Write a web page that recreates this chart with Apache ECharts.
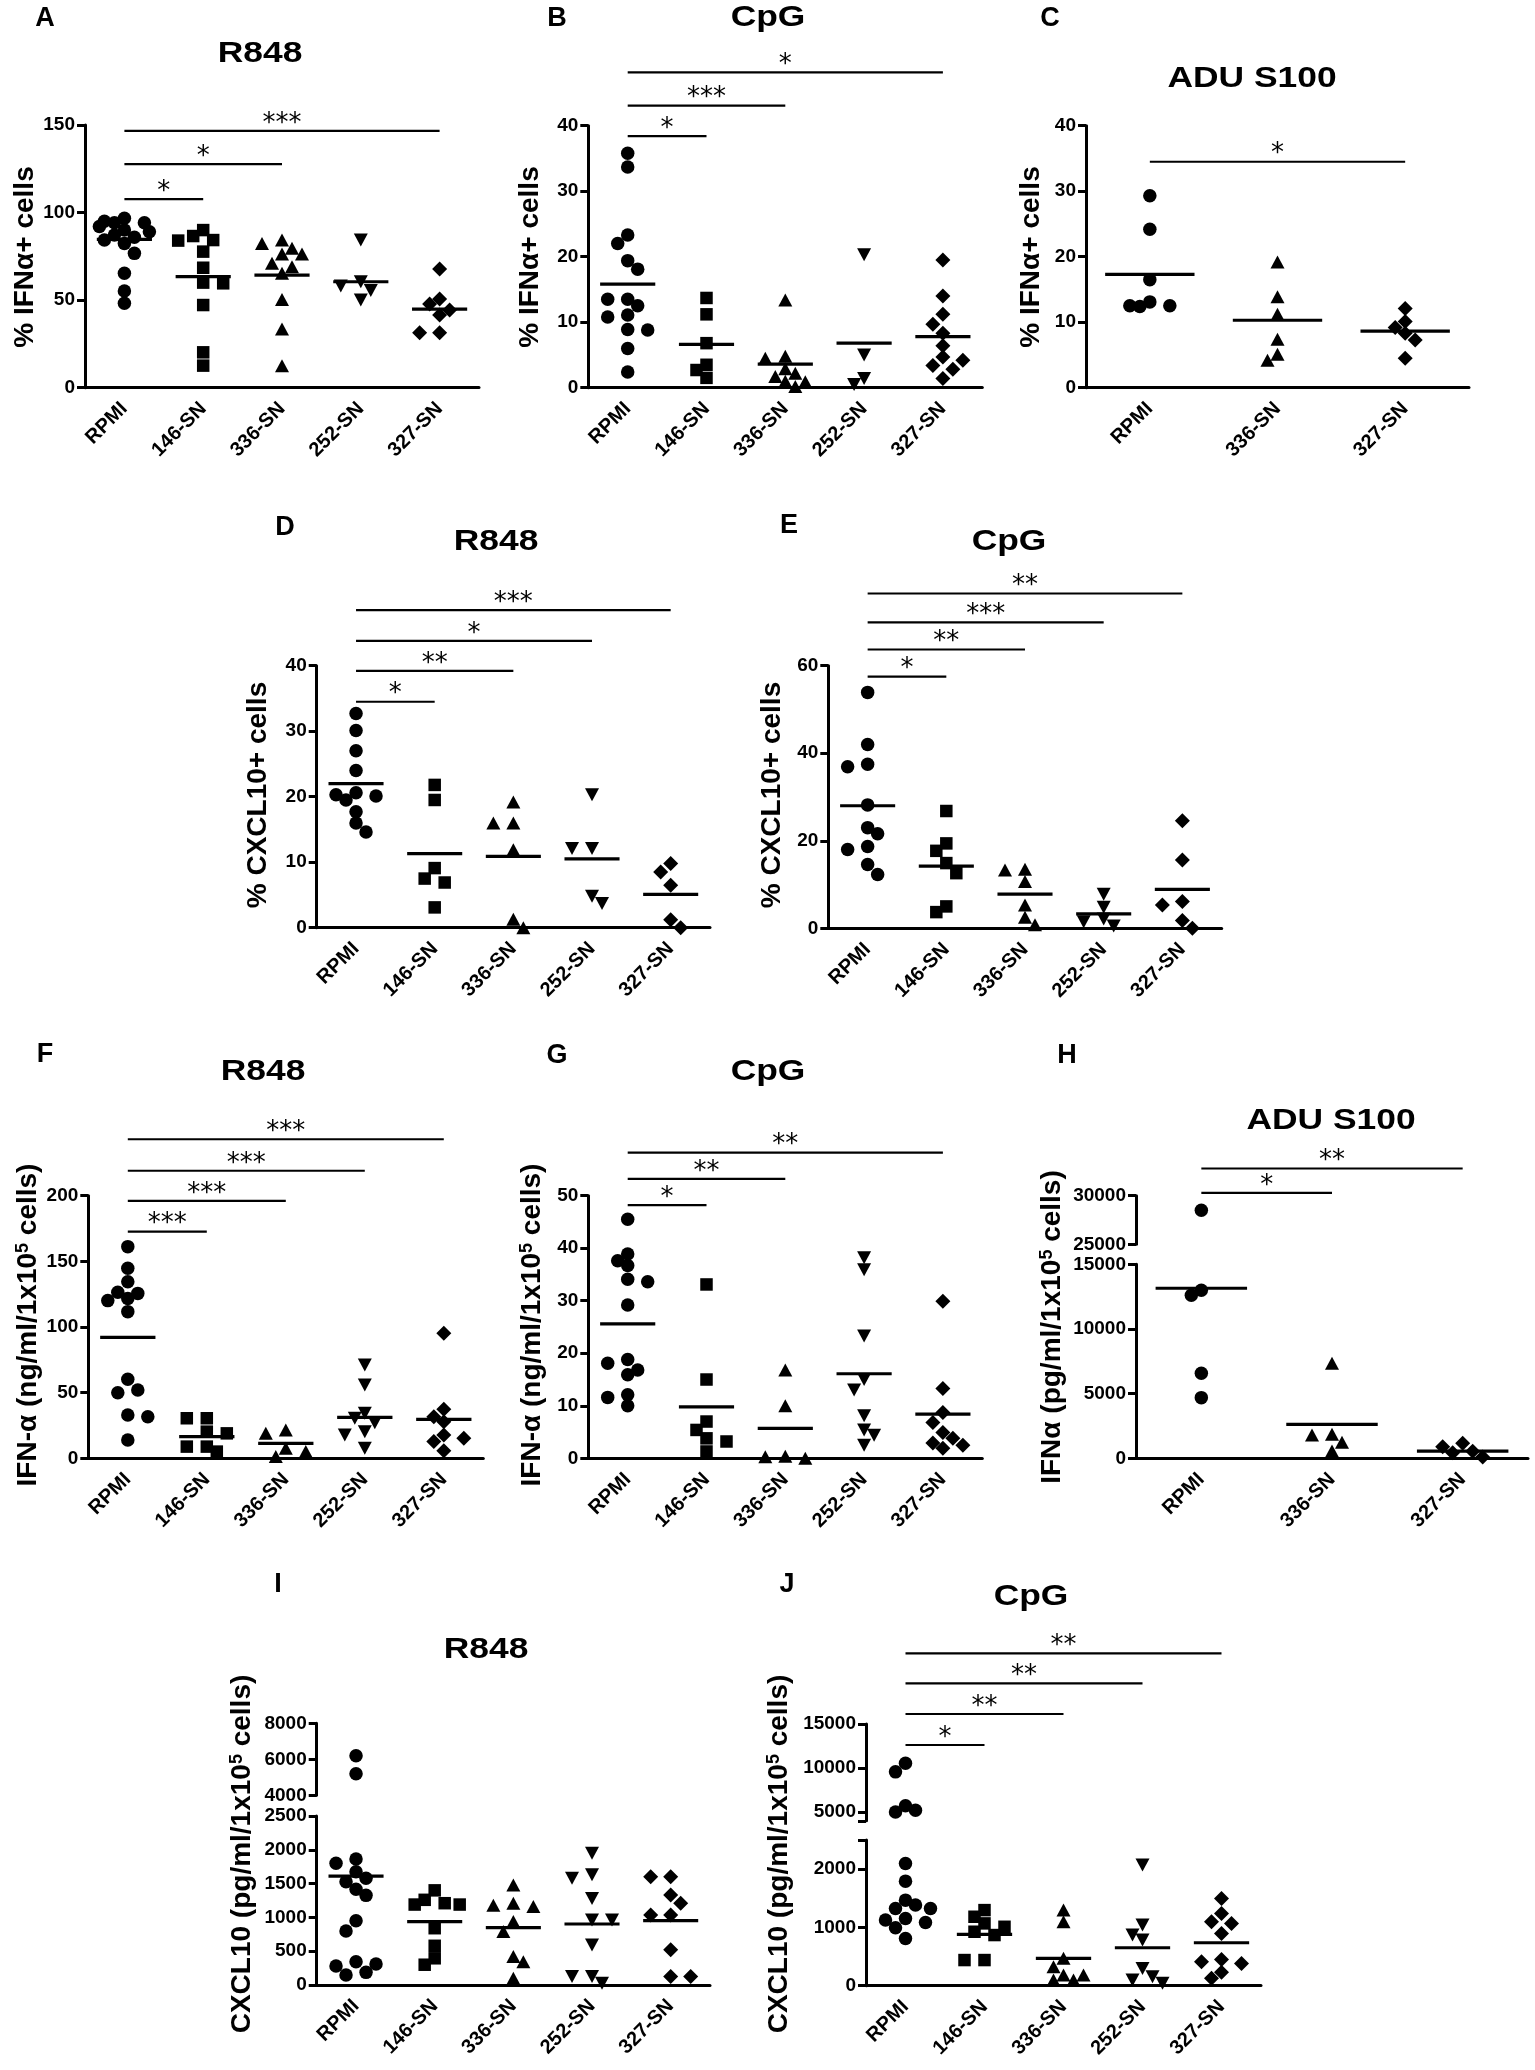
<!DOCTYPE html>
<html><head><meta charset="utf-8">
<script src="https://cdn.jsdelivr.net/npm/echarts@6/dist/echarts.min.js"></script>
<style>html,body{margin:0;padding:0;background:#fff}#c{width:1535px;height:2070px}</style>
</head><body><div id="c"></div>
<script>
const FONT = '"Liberation Sans", Arial, sans-serif';
const STAR_FONT = '"DejaVu Sans", sans-serif';

const categories5 = ['RPMI', '146-SN', '336-SN', '252-SN', '327-SN'];
const categories3 = ['RPMI', '336-SN', '327-SN'];

// ---- Panel A: % IFNa+ cells, R848
const A_RPMI = [96.7, 95, 94.2, 94.2, 92, 90, 89.1, 87.2, 85.9, 84.3, 82.4, 76.7, 65.3, 55.2, 48.2];
const A_146 = [90, 86.6, 84.3, 84, 77.7, 68.5, 60, 59.6, 47.2, 20.2, 12.6];
const A_336 = [84.3, 82.4, 79.6, 76.3, 76.3, 71, 69.1, 65.3, 50.4, 33.5, 12.6];
const A_252 = [84.3, 60.5, 58, 55.5, 50.1];
const A_327 = [67.8, 50.6, 47.8, 44.4, 41.5, 31.4, 31.4];
const A_means = [84.7, 63.4, 64.3, 60.5, 44.9];
const A_sig = [[0, 1, 107.7, '*'], [0, 2, 127.7, '*'], [0, 4, 146.6, '***']];

// ---- Panel B: % IFNa+ cells, CpG
const B_RPMI = [35.8, 33.7, 23.3, 22.0, 19.4, 18.1, 13.5, 13.5, 12.5, 11.1, 10.8, 8.9, 8.8, 6.0, 2.4];
const B_146 = [13.7, 11.2, 6.8, 3.5, 2.7, 1.5];
const B_336 = [13.4, 4.8, 4.5, 2.9, 2.2, 1.7, 1.0, 0.9, 0.2];
const B_252 = [20.3, 5.0, 1.4, 0.5];
const B_327 = [19.5, 14.0, 11.2, 9.7, 8.3, 6.4, 4.7, 4.2, 3.4, 2.8, 1.4];
const B_means = [15.8, 6.6, 3.6, 6.8, 7.8];
const B_sig = [[0, 1, 38.4, '*'], [0, 2, 43.05, '***'], [0, 4, 48.15, '*']];

// ---- Panel C: % IFNa+ cells, ADU S100
const C_RPMI = [29.3, 24.2, 16.5, 13.1, 12.5, 12.5, 12.4];
const C_336 = [19.2, 13.9, 11.2, 7.4, 5.1, 4.2];
const C_327 = [12.1, 10.1, 9.2, 8.3, 7.3, 4.5];
const C_means = [17.3, 10.3, 8.65];
const C_sig = [[0, 2, 34.5, '*']];

// ---- Panel D: % CXCL10+ cells, R848
const D_RPMI = [32.7, 30.1, 27.0, 24.0, 20.6, 20.3, 20.1, 19.5, 17.7, 16.0, 14.6];
const D_146 = [21.8, 19.5, 9.1, 7.5, 6.9, 3.1];
const D_336 = [19.2, 16.0, 16.0, 11.9, 1.3, 0];
const D_252 = [20.3, 12.1, 12.1, 4.8, 3.7];
const D_327 = [9.8, 8.5, 6.5, 1.2, 0];
const D_means = [22.0, 11.3, 10.9, 10.5, 5.1];
const D_sig = [[0, 1, 34.5, '*'], [0, 2, 39.2, '**'], [0, 3, 43.8, '*'], [0, 4, 48.5, '***']];

// ---- Panel E: % CXCL10+ cells, CpG
const E_RPMI = [53.9, 42.0, 37.5, 36.9, 28.2, 23.0, 21.6, 18.7, 18.0, 14.6, 12.3];
const E_146 = [26.8, 19.4, 17.7, 14.9, 12.6, 5.0, 3.7];
const E_336 = [13.5, 13.3, 10.7, 5.3, 2.5, 0.8];
const E_252 = [7.8, 4.8, 2.1, 1.5, 0.5];
const E_327 = [24.6, 15.6, 6.1, 5.3, 1.8, 0];
const E_means = [28.0, 14.2, 7.8, 3.3, 8.9];
const E_sig = [[0, 1, 57.5, '*'], [0, 2, 63.7, '**'], [0, 3, 69.9, '***'], [0, 4, 76.5, '**']];

// ---- Panel F: IFN-a ng/ml, R848
const F_RPMI = [161.2, 144.7, 134.5, 126.4, 125.6, 121.8, 120.1, 111.7, 60.2, 52.0, 50.0, 33.0, 31.7, 14.0];
const F_146 = [30.5, 30.5, 20.3, 19.0, 8.9, 8.9, 5.1];
const F_336 = [21.6, 19.0, 7.6, 5.1, 1.3];
const F_252 = [71.1, 55.8, 34.3, 30.5, 27.0, 20.3, 17.8, 7.6];
const F_327 = [95.2, 37.3, 31.7, 27.9, 17.8, 15.2, 12.7, 5.8];
const F_means = [92.1, 16.5, 11.4, 31.2, 29.7];
const F_sig = [[0, 1, 172.6, '***'], [0, 2, 196, '***'], [0, 3, 219, '***'], [0, 4, 243, '***']];

// ---- Panel G: IFN-a ng/ml, CpG
const G_RPMI = [45.5, 38.9, 37.6, 36.7, 34.1, 33.6, 29.2, 18.8, 18.1, 16.8, 15.9, 12.1, 11.6, 10.0];
const G_146 = [33.1, 15.0, 7.0, 5.4, 3.8, 3.2, 1.3];
const G_336 = [16.8, 10.0, 0.4, 0.3, 0];
const G_252 = [38.2, 35.9, 23.3, 15.0, 13.0, 8.1, 5.4, 4.4, 2.5];
const G_327 = [29.9, 13.3, 8.7, 6.8, 4.9, 3.8, 2.9, 2.5, 1.9];
const G_means = [25.6, 9.8, 5.7, 16.1, 8.4];
const G_sig = [[0, 1, 48.2, '*'], [0, 2, 53.2, '**'], [0, 4, 58.2, '**']];

// ---- Panel H: IFNa pg/ml, ADU S100 (broken axis)
const H_RPMI = [28500, 13000, 12600, 6570, 4690];
const H_336 = [7350, 1860, 1800, 1240, 560];
const H_327 = [1160, 900, 540, 420, 100];
const H_means = [13150, 2630, 560];
const H_sig = [[0, 1, 30300, '*'], [0, 2, 32800, '**']];

// ---- Panel I: CXCL10 pg/ml, R848 (broken axis)
const I_RPMI = [6200, 5200, 1863, 1800, 1676, 1578, 1528, 1415, 1326, 951, 799, 345, 311, 281, 187, 148];
const I_146 = [1400, 1260, 1210, 1190, 1190, 840, 580, 395, 300];
const I_336 = [1480, 1210, 1180, 1160, 940, 790, 420, 345, 100];
const I_252 = [1950, 1630, 1580, 1280, 960, 960, 590, 125, 125, 25];
const I_327 = [1600, 1600, 1330, 1210, 1035, 1035, 520, 125, 125];
const I_means = [1612, 937, 848, 902, 951];
const I_sig = [];

// ---- Panel J: CXCL10 pg/ml, CpG (broken axis)
const J_RPMI = [10540, 9560, 5720, 5190, 5000, 2097, 1794, 1468, 1383, 1326, 1326, 1154, 1126, 1086, 994, 811];
const J_146 = [1297, 1183, 1069, 1011, 926, 869, 440, 440];
const J_336 = [1297, 1097, 469, 326, 183, 183, 97, 97];
const J_252 = [2069, 1040, 869, 783, 297, 154, 97, 40];
const J_327 = [1497, 1240, 1097, 1069, 897, 451, 411, 383, 229, 126];
const J_means = [null, 880, 469, 651, 737];
const J_sig = [[0, 1, 12614, '*'], [0, 2, 16136, '**'], [0, 3, 19625, '**'], [0, 4, 23034, '**']];

// ---- tick labels for the broken axes
const J_lowTicks = [0, 1000, 2000, 2500];
const J_lowLabels = [0, 1000, 2000];
const J_upTicks = [4000, 5000, 10000, 15000];
const J_upLabels = [5000, 10000, 15000];

// ---- axis titles
const Y_IFN_PCT = '{t|% IFNα+ cells}';
const Y_CXCL_PCT = '{t|% CXCL10+ cells}';
const Y_IFN_NG = '{t|IFN-α (ng/ml/1x10}{s|5}{t| cells)}';
const Y_IFN_PG = '{t|IFNα (pg/ml/1x10}{s|5}{t| cells)}';
const Y_CXCL_PG = '{t|CXCL10 (pg/ml/1x10}{s|5}{t| cells)}';

// ---- marker style by group
const SYM = {
  'RPMI': {symbol: 'circle', size: 13.5, rotate: 0},
  '146-SN': {symbol: 'rect', size: 12.5, rotate: 0},
  '336-SN': {symbol: 'triangle', size: [14, 13], rotate: 0},
  '252-SN': {symbol: 'triangle', size: [14, 13], rotate: 180},
  '327-SN': {symbol: 'diamond', size: [15, 15], rotate: 0}
};

const PANELS = [
  {letter: 'A', title: 'R848', cats: categories5, groups: [A_RPMI, A_146, A_336, A_252, A_327], means: A_means, sig: A_sig, yName: Y_IFN_PCT,
   pos: {letter: [45, 18.5], title: [260, 54], yName: [25, 257]},
   segs: [{left: 85, top: 125, width: 394, height: 262.7, min: 0, max: 150, interval: 50}]},
  {letter: 'B', title: 'CpG', cats: categories5, groups: [B_RPMI, B_146, B_336, B_252, B_327], means: B_means, sig: B_sig, yName: Y_IFN_PCT,
   pos: {letter: [557, 18.5], title: [768, 18], yName: [530, 257]},
   segs: [{left: 588.3, top: 125.7, width: 394, height: 262, min: 0, max: 40, interval: 10}]},
  {letter: 'C', title: 'ADU S100', cats: categories3, groups: [C_RPMI, C_336, C_327], means: C_means, sig: C_sig, yName: Y_IFN_PCT,
   pos: {letter: [1050, 18.5], title: [1252, 79], yName: [1031, 257]},
   segs: [{left: 1086, top: 125.7, width: 383, height: 262, min: 0, max: 40, interval: 10}]},
  {letter: 'D', title: 'R848', cats: categories5, groups: [D_RPMI, D_146, D_336, D_252, D_327], means: D_means, sig: D_sig, yName: Y_CXCL_PCT,
   pos: {letter: [285, 528], title: [496, 542], yName: [258, 795]},
   segs: [{left: 316.7, top: 665.7, width: 393.3, height: 262, min: 0, max: 40, interval: 10}]},
  {letter: 'E', title: 'CpG', cats: categories5, groups: [E_RPMI, E_146, E_336, E_252, E_327], means: E_means, sig: E_sig, yName: Y_CXCL_PCT,
   pos: {letter: [789, 526], title: [1009, 542], yName: [772, 795]},
   segs: [{left: 828.3, top: 665.7, width: 393.4, height: 262.6, min: 0, max: 60, interval: 20}]},
  {letter: 'F', title: 'R848', cats: categories5, groups: [F_RPMI, F_146, F_336, F_252, F_327], means: F_means, sig: F_sig, yName: Y_IFN_NG,
   pos: {letter: [45, 1055], title: [263, 1072], yName: [28, 1325]},
   segs: [{left: 88.3, top: 1195.7, width: 395, height: 262.6, min: 0, max: 200, interval: 50}]},
  {letter: 'G', title: 'CpG', cats: categories5, groups: [G_RPMI, G_146, G_336, G_252, G_327], means: G_means, sig: G_sig, yName: Y_IFN_NG,
   pos: {letter: [557, 1056], title: [768, 1072], yName: [532, 1325]},
   segs: [{left: 588.3, top: 1195.7, width: 394, height: 262.6, min: 0, max: 50, interval: 10}]},
  {letter: 'H', title: 'ADU S100', cats: categories3, groups: [H_RPMI, H_336, H_327], means: H_means, sig: H_sig, yName: Y_IFN_PG,
   pos: {letter: [1067, 1056], title: [1331, 1121], yName: [1052, 1327]},
   segs: [{left: 1136, top: 1264.3, width: 392, height: 194, min: 0, max: 15000, interval: 5000},
          {left: 1136, top: 1195.7, width: 392, height: 48.6, min: 25000, max: 30000, interval: 5000}]},
  {letter: 'I', title: 'R848', cats: categories5, groups: [I_RPMI, I_146, I_336, I_252, I_327], means: I_means, sig: I_sig, yName: Y_CXCL_PG,
   pos: {letter: [278, 1585], title: [486, 1650], yName: [242, 1854]},
   segs: [{left: 316.7, top: 1816, width: 393.3, height: 169, min: 0, max: 2500, interval: 500},
          {left: 316.7, top: 1723.3, width: 393.3, height: 72, min: 4000, max: 8000, interval: 2000}]},
  {letter: 'J', title: 'CpG', cats: categories5, groups: [J_RPMI, J_146, J_336, J_252, J_327], means: J_means, sig: J_sig, yName: Y_CXCL_PG,
   pos: {letter: [787, 1585], title: [1031, 1597], yName: [779, 1854]},
   segs: [{left: 866, top: 1840, width: 395, height: 145.7, min: 0, max: 2500, ticks: J_lowTicks, labels: J_lowLabels},
          {left: 866, top: 1724, width: 395, height: 96.8, min: 4000, max: 15000, ticks: J_upTicks, labels: J_upLabels}]}
];

const chart = echarts.init(document.getElementById('c'), null, {renderer: 'canvas'});
const option = {animation: false, backgroundColor: '#ffffff', grid: [], xAxis: [], yAxis: [], series: [], graphic: []};
const scatterMeta = [];

function segOf(p, v) {
  for (let si = p.segs.length - 1; si > 0; si--) {
    if (v >= p.segs[si].min) return si;
  }
  return 0;
}

PANELS.forEach(p => {
  const n = p.cats.length;
  p.gIdx = [];
  p.segs.forEach((s, si) => {
    const g = option.grid.length;
    p.gIdx.push(g);
    const bottom = si === 0;
    option.grid.push({left: s.left, top: s.top, width: s.width, height: s.height, containLabel: false});
    option.xAxis.push({
      type: 'category', gridIndex: g, data: p.cats, show: bottom, boundaryGap: true,
      axisLine: {onZero: false, lineStyle: {color: '#000', width: 3}},
      axisTick: {alignWithLabel: true, length: 8, lineStyle: {color: '#000', width: 3}},
      axisLabel: {rotate: 45, interval: 0, fontSize: 20, fontWeight: 'bold', fontFamily: FONT, color: '#000', margin: 18},
      splitLine: {show: false}
    });
    option.xAxis.push({type: 'value', gridIndex: g, min: -0.5, max: n - 0.5, show: false, axisLine: {onZero: false}, splitLine: {show: false}});
    const y = {
      type: 'value', gridIndex: g, min: s.min, max: s.max,
      axisLine: {show: true, onZero: false, lineStyle: {color: '#000', width: 3}},
      axisTick: {show: true, length: 8, lineStyle: {color: '#000', width: 3}},
      axisLabel: {fontSize: 19, fontWeight: 'bold', fontFamily: FONT, color: '#000', margin: 10, formatter: v => String(v)},
      splitLine: {show: false}
    };
    if (s.interval) y.interval = s.interval;
    if (s.ticks) { y.axisTick.customValues = s.ticks; y.axisLabel.customValues = s.labels; }
    option.yAxis.push(y);
  });

  // points
  p.cats.forEach((c, ci) => {
    const st = SYM[c];
    p.segs.forEach((s, si) => {
      const g = p.gIdx[si];
      const vals = p.groups[ci].filter(v => segOf(p, v) === si);
      if (!vals.length) return;
      scatterMeta.push({series: option.series.length, g: g, ci: ci, vals: vals, panel: p});
      option.series.push({
        type: 'scatter', xAxisIndex: 2 * g + 1, yAxisIndex: g, clip: false, silent: true, z: 3,
        symbol: st.symbol, symbolSize: st.size, symbolRotate: st.rotate,
        itemStyle: {color: '#000', opacity: 1},
        data: vals.map(v => [ci, v])
      });
    });
  });

  // mean lines
  p.segs.forEach((s, si) => {
    const g = p.gIdx[si];
    const md = [];
    p.means.forEach((m, ci) => { if (m !== null && m >= s.min && m <= s.max) md.push([ci, m]); });
    if (!md.length) return;
    option.series.push({
      type: 'custom', xAxisIndex: 2 * g + 1, yAxisIndex: g, clip: false, silent: true, z: 4,
      encode: {x: 0, y: 1}, data: md,
      renderItem: (params, api) => {
        const ci = api.value(0), m = api.value(1);
        const a = api.coord([ci - 0.35, m]);
        const b = api.coord([ci + 0.35, m]);
        return {type: 'line', shape: {x1: a[0], y1: a[1], x2: b[0], y2: b[1]}, style: {stroke: '#000', lineWidth: 3.2}};
      }
    });
  });

  // significance brackets (on the top segment)
  if (p.sig.length) {
    const g = p.gIdx[p.gIdx.length - 1];
    const labels = p.sig.map(s => s[3]);
    option.series.push({
      type: 'custom', xAxisIndex: 2 * g + 1, yAxisIndex: g, clip: false, silent: true, z: 5,
      encode: {x: [0, 1], y: 2}, data: p.sig.map(s => [s[0], s[1], s[2]]),
      renderItem: (params, api) => {
        const a = api.coord([api.value(0), api.value(2)]);
        const b = api.coord([api.value(1), api.value(2)]);
        return {type: 'group', children: [
          {type: 'line', shape: {x1: a[0], y1: a[1], x2: b[0], y2: b[1]}, style: {stroke: '#000', lineWidth: 2.2}},
          {type: 'text', x: (a[0] + b[0]) / 2, y: a[1] - 7,
           style: {text: labels[params.dataIndex], fill: '#000', fontSize: 26, fontFamily: STAR_FONT, fontWeight: 'normal',
                   align: 'center', verticalAlign: 'middle', textAlign: 'center', textVerticalAlign: 'middle'}}
        ]};
      }
    });
  }

  // texts
  option.graphic.push({type: 'text', x: p.pos.letter[0], y: p.pos.letter[1], silent: true,
    style: {text: p.letter, fill: '#000', fontSize: 27, fontWeight: 'bold', fontFamily: FONT,
            align: 'center', verticalAlign: 'middle', textAlign: 'center', textVerticalAlign: 'middle'}});
  option.graphic.push({type: 'text', x: p.pos.title[0], y: p.pos.title[1], scaleX: 1.18, silent: true,
    style: {text: p.title, fill: '#000', fontSize: 30, fontWeight: 'bold', fontFamily: FONT,
            align: 'center', verticalAlign: 'middle', textAlign: 'center', textVerticalAlign: 'middle'}});
  option.graphic.push({type: 'text', x: p.pos.yName[0], y: p.pos.yName[1], rotation: Math.PI / 2, silent: true,
    style: {text: p.yName, fill: '#000', fontSize: 28, fontWeight: 'bold', fontFamily: FONT,
            align: 'center', verticalAlign: 'middle', textAlign: 'center', textVerticalAlign: 'middle',
            rich: {
              t: {fontSize: 28, fontWeight: 'bold', fontFamily: FONT, fill: '#000', color: '#000'},
              s: {fontSize: 18, fontWeight: 'bold', fontFamily: FONT, fill: '#000', color: '#000', verticalAlign: 'top'}
            }}});
});

chart.setOption(option);

// Spread points of each group horizontally (dot-plot layout) using pixel positions from the axes.
function swarm(pys, D, step, maxK) {
  const order = pys.map((y, i) => i).sort((a, b) => pys[a] - pys[b]);
  const placed = [];
  const off = new Array(pys.length).fill(0);
  let pref = -1;
  order.forEach(i => {
    const y = pys[i];
    const cands = [0];
    for (let k = 1; k <= maxK; k++) cands.push(pref * k, -pref * k);
    let found = null, best = null, bestD = -1;
    for (const kk of cands) {
      const x = kk * step;
      const dmin = placed.reduce((acc, q) => Math.min(acc, Math.hypot(q[0] - x, q[1] - y)), Infinity);
      if (dmin >= D) { found = x; break; }
      if (dmin > bestD + 0.5) { bestD = dmin; best = x; }
    }
    if (found === null) found = best;
    off[i] = found;
    if (found !== 0) pref = found > 0 ? -1 : 1;
    placed.push([found, y]);
  });
  return off;
}

const groupsMap = new Map();
scatterMeta.forEach(m => {
  const key = m.panel.letter + '_' + m.ci;
  if (!groupsMap.has(key)) groupsMap.set(key, []);
  groupsMap.get(key).push(m);
});
groupsMap.forEach(list => {
  const all = [];
  list.forEach(m => m.vals.forEach((v, j) => {
    const py = chart.convertToPixel({yAxisIndex: m.g}, v);
    all.push({m: m, j: j, py: py});
  }));
  const m0 = list[0];
  const band = chart.convertToPixel({xAxisIndex: 2 * m0.g + 1}, 1) - chart.convertToPixel({xAxisIndex: 2 * m0.g + 1}, 0);
  const offs = swarm(all.map(a => a.py), 11, 10, 3);
  all.forEach((a, k) => {
    const lim = 2.5 * 10;
    const o = Math.max(-lim, Math.min(lim, offs[k]));
    option.series[a.m.series].data[a.j] = [a.m.ci + o / band, a.m.vals[a.j]];
  });
});

chart.setOption(option, true);
</script>
</body></html>
